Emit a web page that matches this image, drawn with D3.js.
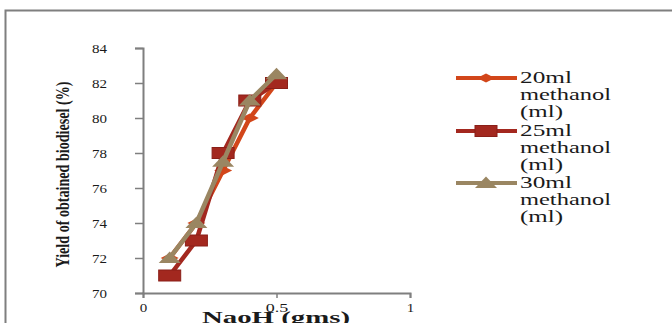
<!DOCTYPE html>
<html>
<head>
<meta charset="utf-8">
<script src="https://cdn.jsdelivr.net/npm/d3@7"></script>
<style>
  html, body { margin: 0; padding: 0; background: #fff; }
  svg { display: block; }
  text { font-family: "Liberation Serif", "DejaVu Serif", serif; fill: #1a1a1a; }
</style>
</head>
<body>
<svg id="chart" width="672" height="323"></svg>
<script>
// NaOH dose (g) on the x axis
const naoh = [0.1, 0.2, 0.3, 0.4, 0.5];
// Biodiesel yield (%) for each methanol volume
const yield20 = [72, 74, 77, 80, 82];
const yield25 = [71, 73, 78, 81, 82];
const yield30 = [72, 74, 77.5, 81, 82.5];
const seriesNames = ["20ml", "25ml", "30ml"];
const yTicks = [70, 72, 74, 76, 78, 80, 82, 84];
const xTicks = [0, 0.5, 1];

const series = [
  { name: seriesNames[0], values: yield20, color: "#d2461a", marker: "diamond" },
  { name: seriesNames[1], values: yield25, color: "#a3281f", marker: "square" },
  { name: seriesNames[2], values: yield30, color: "#9a8662", marker: "triangle" }
];

const svg = d3.select("#chart");

// outer frame, running off the right and bottom edges
svg.append("rect")
  .attr("x", 5.5).attr("y", 10.5)
  .attr("width", 700).attr("height", 400)
  .attr("fill", "none").attr("stroke", "#7f7f7f").attr("stroke-width", 2);

const x = d3.scaleLinear().domain([0, 1]).range([143, 410]);
const y = d3.scaleLinear().domain([70, 84]).range([293, 48]);

// tick labels are set wide, like the rest of the lettering
function styleTicks(sel) {
  sel.selectAll(".tick text")
    .style("font-size", "13px")
    .attr("fill", "#222")
    .attr("lengthAdjust", "spacingAndGlyphs")
    .attr("textLength", function () { return this.textContent.length * 7.5; });
}

// y axis
const yAxis = svg.append("g")
  .attr("transform", `translate(${x(0)},0)`)
  .call(d3.axisLeft(y).tickValues(yTicks).tickFormat(d3.format("d")).tickSize(8).tickPadding(28));
yAxis.select(".domain").attr("stroke", "#7f7f7f").attr("stroke-width", 2);
yAxis.selectAll(".tick line").attr("stroke", "#7f7f7f").attr("stroke-width", 1.5);
styleTicks(yAxis);

// x axis
const xAxis = svg.append("g")
  .attr("transform", `translate(0,${y(70)})`)
  .call(d3.axisBottom(x).tickValues(xTicks).tickFormat(d => d === 0.5 ? "0.5" : d3.format("d")(d)).tickSize(5).tickPadding(5));
xAxis.select(".domain").attr("stroke", "#7f7f7f").attr("stroke-width", 2);
xAxis.selectAll(".tick line").attr("stroke", "#7f7f7f").attr("stroke-width", 1.5);
styleTicks(xAxis);

// axis titles
svg.append("text")
  .attr("transform", `translate(69,${(y(70) + y(84)) / 2 + 4}) rotate(-90)`)
  .attr("text-anchor", "middle")
  .attr("textLength", 186).attr("lengthAdjust", "spacingAndGlyphs")
  .style("font-size", "18px").style("font-weight", "bold")
  .text("Yield of obtained biodiesel (%)");

svg.append("text")
  .attr("x", 276).attr("y", 323)
  .attr("text-anchor", "middle")
  .attr("textLength", 148).attr("lengthAdjust", "spacingAndGlyphs")
  .style("font-size", "17px").style("font-weight", "bold")
  .text("NaoH (gms)");

// marker shapes, drawn wide like the rest of the figure
function marker(g, kind, color) {
  if (kind === "diamond") {
    g.append("path").attr("d", "M-9,0 L0,-4.5 L9,0 L0,4.5 Z").attr("fill", color);
  } else if (kind === "square") {
    g.append("rect").attr("x", -11).attr("y", -5.5).attr("width", 22).attr("height", 11)
      .attr("fill", color).attr("stroke", "#8a1f18").attr("stroke-width", 1);
  } else {
    g.append("path").attr("d", "M-11,5 L0,-6.5 L11,5 Z").attr("fill", color);
  }
}

const line = d3.line().x(d => x(d[0])).y(d => y(d[1]));

series.forEach(s => {
  const pts = naoh.map((n, i) => [n, s.values[i]]);
  const g = svg.append("g");
  g.append("path").datum(pts).attr("d", line)
    .attr("fill", "none").attr("stroke", s.color).attr("stroke-width", 4.5)
    .attr("stroke-linejoin", "round");
  pts.forEach(p => {
    const m = g.append("g").attr("transform", `translate(${x(p[0])},${y(p[1])})`);
    marker(m, s.marker, s.color);
  });
});

// legend
const legend = svg.append("g");
const rowY = [78, 131, 183];
const lineWidths = { name: 52, methanol: 91, unit: 43 };
series.forEach((s, i) => {
  const row = legend.append("g").attr("transform", `translate(0,${rowY[i]})`);
  row.append("line").attr("x1", 456).attr("x2", 517).attr("y1", 0).attr("y2", 0)
    .attr("stroke", s.color).attr("stroke-width", 4);
  const m = row.append("g").attr("transform", "translate(486,0)");
  marker(m, s.marker, s.color);
  [[s.name, lineWidths.name], ["methanol", lineWidths.methanol], ["(ml)", lineWidths.unit]]
    .forEach(([w, len], k) => {
      row.append("text").attr("x", 520).attr("y", 5 + k * 17)
        .style("font-size", "16px").attr("fill", "#1a1a1a")
        .attr("textLength", len).attr("lengthAdjust", "spacingAndGlyphs")
        .text(w);
    });
});
</script>
</body>
</html>
